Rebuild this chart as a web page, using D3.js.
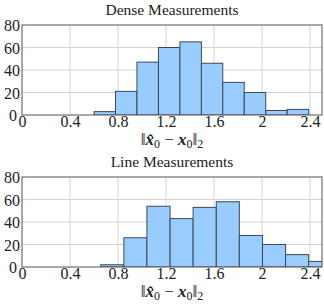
<!DOCTYPE html>
<html><head><meta charset="utf-8">
<script src="https://cdn.jsdelivr.net/npm/d3@7"></script>
<style>
html,body{margin:0;padding:0;background:#fff;}
svg{display:block;}
svg text{font-family:"Liberation Serif","DejaVu Serif",serif !important;fill:#222;}
</style></head>
<body>
<svg id="c" width="324" height="306"></svg>
<script>
// ---- data ----
const xTicks = [0, 0.4, 0.8, 1.2, 1.6, 2, 2.4];
const yTicks = [0, 20, 40, 60, 80];
const titles = ["Dense Measurements", "Line Measurements"];
const denseEdges = [0.600, 0.779, 0.958, 1.137, 1.316, 1.495, 1.673, 1.852, 2.031, 2.210, 2.389];
const denseCounts = [3, 21, 47, 60, 65, 46, 29, 20, 4, 5];
const lineEdges = [0.656, 0.849, 1.041, 1.234, 1.426, 1.619, 1.811, 2.004, 2.196, 2.389, 2.581];
const lineCounts = [2, 26, 54, 43, 53, 58, 28, 20, 11, 5];

const svg = d3.select("#c");
const panels = [
  {title: titles[0], edges: denseEdges, counts: denseCounts, top: 25, bottom: 115},
  {title: titles[1], edges: lineEdges, counts: lineCounts, top: 177, bottom: 267}
];
const left = 22, right = 322;
const FONT = '"Liberation Serif","DejaVu Serif",serif';

panels.forEach((p, pi) => {
  const x = d3.scaleLinear().domain([0, 2.5]).range([left, right]);
  const y = d3.scaleLinear().domain([0, 80]).range([p.bottom, p.top]);
  const g = svg.append("g");
  const clipId = "clip" + pi;
  svg.append("clipPath").attr("id", clipId).append("rect")
    .attr("x", left).attr("y", p.top).attr("width", right - left).attr("height", p.bottom - p.top);

  // grid
  g.append("g").selectAll("line").data(xTicks.filter(t => t > 0)).join("line")
    .attr("x1", d => x(d)).attr("x2", d => x(d)).attr("y1", p.top).attr("y2", p.bottom)
    .attr("stroke", "#d4d4d4").attr("stroke-width", 1);
  g.append("g").selectAll("line").data(yTicks.filter(t => t > 0 && t < 80)).join("line")
    .attr("x1", left).attr("x2", right).attr("y1", d => y(d)).attr("y2", d => y(d))
    .attr("stroke", "#d4d4d4").attr("stroke-width", 1);

  // bars
  const bins = p.counts.map((c, i) => ({x0: p.edges[i], x1: p.edges[i + 1], c}));
  g.append("g").attr("clip-path", `url(#${clipId})`).selectAll("rect").data(bins).join("rect")
    .attr("x", d => x(d.x0)).attr("width", d => x(d.x1) - x(d.x0))
    .attr("y", d => y(d.c)).attr("height", d => y(0) - y(d.c))
    .attr("fill", "#99ccff").attr("stroke", "#3a4858").attr("stroke-width", 1);

  // frame
  g.append("rect").attr("x", left).attr("y", p.top).attr("width", right - left).attr("height", p.bottom - p.top)
    .attr("fill", "none").attr("stroke", "#555").attr("stroke-width", 1);

  // axes labels
  const xa = d3.axisBottom(x).tickValues(xTicks).tickSize(0).tickFormat(d3.format("~g"));
  const xg = g.append("g").attr("transform", `translate(0,${p.bottom})`).call(xa)
    .attr("font-family", FONT).attr("font-size", 16);
  xg.select(".domain").remove();
  xg.selectAll("text").attr("dy", 0).attr("y", 12).attr("fill", "#222");

  const ya = d3.axisLeft(y).tickValues(yTicks).tickSize(0);
  const yg = g.append("g").attr("transform", `translate(${left - 2},0)`).call(ya)
    .attr("font-family", FONT).attr("font-size", 16);
  yg.select(".domain").remove();
  yg.selectAll("text").attr("x", d => d === 0 ? -3 : 0).attr("dy", "0.35em").attr("fill", "#222");

  // title
  g.append("text").attr("x", (left + right) / 2).attr("y", p.top - 10)
    .attr("text-anchor", "middle").attr("font-family", FONT).attr("font-size", 15.5).text(p.title);

  // x label
  const t = g.append("text").attr("x", (left + right) / 2).attr("y", p.bottom + 30)
    .attr("text-anchor", "middle").attr("font-family", FONT).attr("font-size", 17);
  t.append("tspan").text("‖");
  t.append("tspan").attr("font-weight", "bold").attr("font-style", "italic").text("x\u0302");
  t.append("tspan").attr("dy", 3).attr("font-size", 12).text("0");
  t.append("tspan").attr("dy", -3).text(" \u2212 ");
  t.append("tspan").attr("font-weight", "bold").attr("font-style", "italic").text("x");
  t.append("tspan").attr("dy", 3).attr("font-size", 12).text("0");
  t.append("tspan").attr("dy", -3).text("‖");
  t.append("tspan").attr("dy", 3).attr("font-size", 12).text("2");
});
</script>
</body></html>
